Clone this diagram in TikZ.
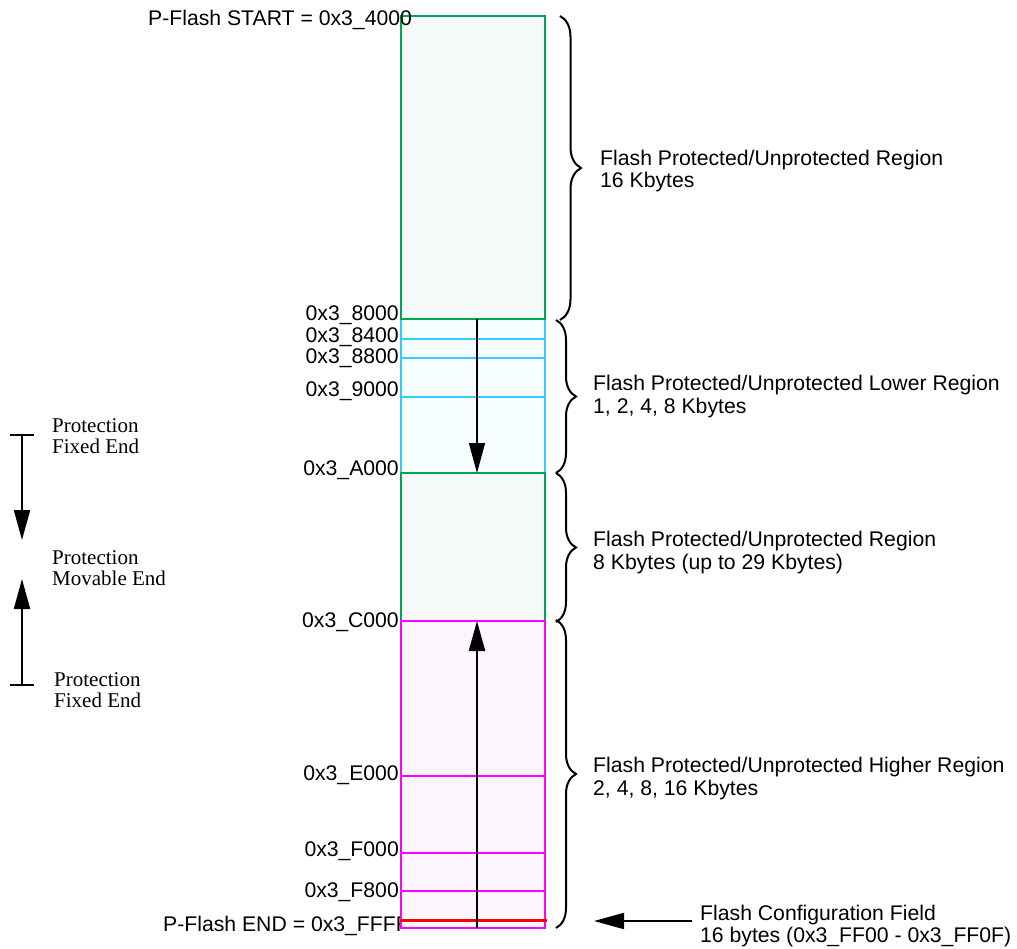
\documentclass[tikz,border=0pt]{standalone}
\usepackage{fontspec}
\setmainfont{Liberation Sans}
\newfontfamily\serifface{Liberation Serif}
\usetikzlibrary{arrows.meta,decorations.pathreplacing}
\definecolor{mgreen}{RGB}{0,166,81}
\definecolor{mcyan}{RGB}{51,204,255}
\definecolor{mmag}{RGB}{255,0,255}
\definecolor{mred}{RGB}{255,0,0}
\definecolor{fgreen}{RGB}{245,249,247}
\definecolor{fcyan}{RGB}{245,253,255}
\definecolor{fmag}{RGB}{253,245,253}
\begin{document}
\begin{tikzpicture}[x=1pt,y=-1pt,
  lbl/.style={inner sep=0pt, font=\fontsize{21.2}{22.5}\selectfont},
  addr/.style={lbl, anchor=base east},
  rlbl/.style={lbl, anchor=base west, align=left},
  slbl/.style={inner sep=0pt, anchor=base west, font=\serifface\fontsize{21}{21}\selectfont},
  sect/.style={line width=2.2pt},
  brc/.style={decorate, decoration={brace, amplitude=#1}, line width=2pt},
  tip/.style={-{Triangle[length=30pt,width=16pt]}},
  bartip/.style={{Bar[width=24pt]}-{Triangle[length=30pt,width=16pt]}, line width=2pt}]
\useasboundingbox (0,0) rectangle (1017,949);

% label partly hidden by the box
\node[lbl, anchor=base west] (endl) at (163,931.5) {P-Flash END = 0x3\_FFFF};

% sections
\draw[sect, mcyan, fill=fcyan] (401,319) rectangle (545,473);
\draw[sect, mcyan] (401,339) -- (545,339);
\draw[sect, mcyan] (401,358) -- (545,358);
\draw[sect, mcyan] (401,397) -- (545,397);
\draw[sect, mgreen, fill=fgreen] (401,16) rectangle (545,319);
\draw[sect, mgreen, fill=fgreen] (401,473) rectangle (545,621);
\draw[sect, mmag, fill=fmag] (401,621) rectangle (545,928);
\draw[sect, mmag] (401,776) -- (545,776);
\draw[sect, mmag] (401,853) -- (545,853);
\draw[sect, mmag] (401,891) -- (545,891);
\draw[line width=3pt, mred] (400,920) -- (547,920);

% named points for arrows
\coordinate (a1s) at (477,319);
\coordinate (a1e) at (477,473);
\coordinate (a2s) at (477,928);
\coordinate (a2e) at (477,621);
\draw[tip, line width=1.3pt] (a1s) -- (a1e);
\draw[tip, line width=2.2pt] (a2s) -- (a2e);

% addresses
\node[lbl, anchor=base west] (startl) at (148,25.5) {P-Flash START = 0x3\_4000};
\node[addr] (l8000) at (399,320.5) {0x3\_8000};
\node[addr] (l8400) at (399,342.5) {0x3\_8400};
\node[addr] (l8800) at (399,363.5) {0x3\_8800};
\node[addr] (l9000) at (399,396.5) {0x3\_9000};
\node[addr] (lA000) at (399,475.5) {0x3\_A000};
\node[addr] (lC000) at (399,627.5) {0x3\_C000};
\node[addr] (lE000) at (399,780.5) {0x3\_E000};
\node[addr] (lF000) at (399,856.5) {0x3\_F000};
\node[addr] (lF800) at (399,897.5) {0x3\_F800};

% braces
\draw[brc=21pt] (560,16) -- (560,320);
\draw[brc=20pt] (556,320) -- (556,473);
\draw[brc=20pt] (556,473) -- (556,622);
\draw[brc=20pt] (556,620) -- (556,928);

% region labels
\node[rlbl] (r1) at (600,165.5) {\begin{tabular}[t]{@{}l@{}}Flash Protected/Unprotected Region\\16 Kbytes\end{tabular}};
\node[rlbl] (r2) at (593,390.5) {\begin{tabular}[t]{@{}l@{}}Flash Protected/Unprotected Lower Region\\1, 2, 4, 8 Kbytes\end{tabular}};
\node[rlbl] (r3) at (593,546.5) {\begin{tabular}[t]{@{}l@{}}Flash Protected/Unprotected Region\\8 Kbytes (up to 29 Kbytes)\end{tabular}};
\node[rlbl] (r4) at (593,772.5) {\begin{tabular}[t]{@{}l@{}}Flash Protected/Unprotected Higher Region\\2, 4, 8, 16 Kbytes\end{tabular}};
\node[rlbl] (cfg) at (700,920) {\begin{tabular}[t]{@{}l@{}}Flash Configuration Field\\16 bytes (0x3\_FF00 - 0x3\_FF0F)\end{tabular}};
\coordinate (cfgs) at (692,921);
\coordinate (cfge) at (594,921);
\draw[tip, line width=2pt] (cfgs) -- (cfge);

% protection legend
\coordinate (p1s) at (22,434);
\coordinate (p1e) at (22,540);
\coordinate (p2s) at (22,686);
\coordinate (p2e) at (22,579);
\draw[bartip] (p1s) -- (p1e);
\draw[bartip] (p2s) -- (p2e);
\node[slbl] (pf1) at (52,432) {\begin{tabular}[t]{@{}l@{}}Protection\\Fixed End\end{tabular}};
\node[slbl] (pm) at (52,564) {\begin{tabular}[t]{@{}l@{}}Protection\\Movable End\end{tabular}};
\node[slbl] (pf2) at (54,686) {\begin{tabular}[t]{@{}l@{}}Protection\\Fixed End\end{tabular}};
\end{tikzpicture}
\end{document}
